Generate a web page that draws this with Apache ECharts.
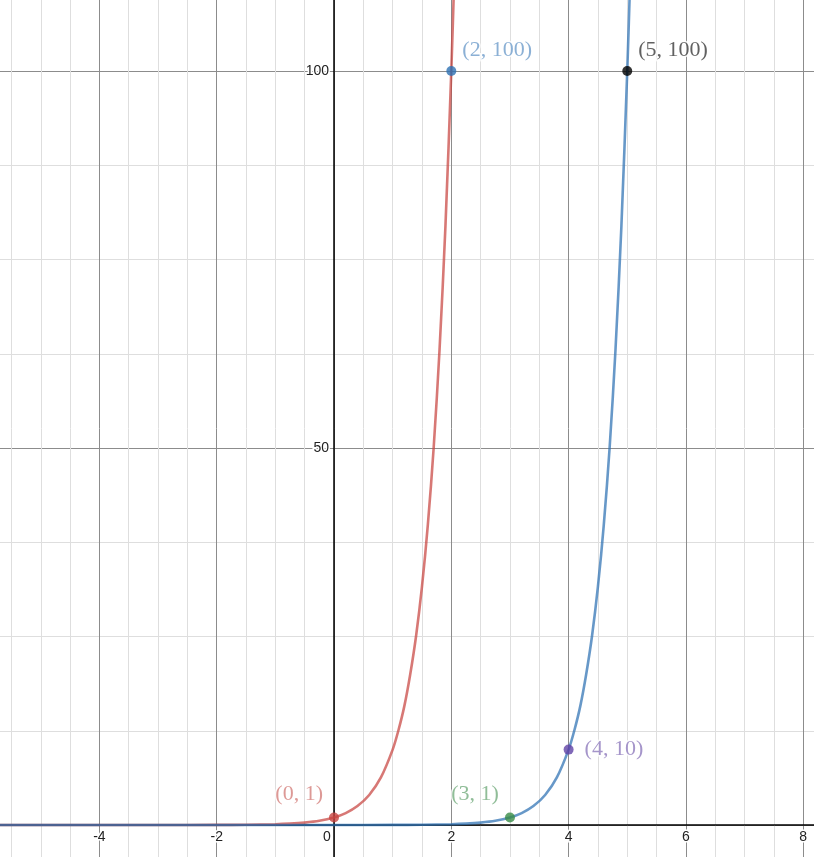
<!DOCTYPE html>
<html>
<head>
<meta charset="utf-8">
<script src="https://cdn.jsdelivr.net/npm/echarts@6/dist/echarts.min.js"></script>
<style>
html,body{margin:0;padding:0;background:#fff;}
#chart{width:814px;height:857px;}
</style>
</head>
<body>
<div id="chart"></div>
<script>
// Red curve
var redX = [-5.7, -3, -2, -1.5, -1, -0.75, -0.5, -0.25, 0, 0.2, 0.4, 0.6, 0.8, 1, 1.1, 1.2, 1.3, 1.4, 1.5, 1.6, 1.7, 1.8, 1.9, 2, 2.06];
var redY = [0, 0.001, 0.01, 0.03, 0.1, 0.18, 0.32, 0.56, 1, 1.58, 2.51, 3.98, 6.31, 10, 12.6, 15.8, 20, 25.1, 31.6, 39.8, 50.1, 63.1, 79.4, 100, 114.8];
// Blue curve
var blueX = [-5.7, 0, 1, 1.5, 2, 2.25, 2.5, 2.75, 3, 3.2, 3.4, 3.6, 3.8, 4, 4.1, 4.2, 4.3, 4.4, 4.5, 4.6, 4.7, 4.8, 4.9, 5, 5.06];
var blueY = [0, 0.001, 0.01, 0.03, 0.1, 0.18, 0.32, 0.56, 1, 1.58, 2.51, 3.98, 6.31, 10, 12.6, 15.8, 20, 25.1, 31.6, 39.8, 50.1, 63.1, 79.4, 100, 114.8];
// Labelled points
var ptX = [0, 2, 3, 4, 5];
var ptY = [1, 100, 1, 10, 100];
var ptText = ['(0, 1)', '(2, 100)', '(3, 1)', '(4, 10)', '(5, 100)'];
var ptColor = ['#c74440', '#2d70b3', '#388c46', '#6042a6', '#000000'];
var ptLabelColor = ['#d4807c', '#6e9ccb', '#74ad7e', '#8e7bbd', '#3a3a3a'];
var ptSide = ['left', 'right', 'left', 'right', 'right'];
var ptDy = [-23, -21, -23, 0, -21];
var ptDist = [6, 6, 6, 11, 6];
// Axis ticks
var xMin = -6, xMax = 10, xStep = 2;
var yMin = -50, yMax = 150, yStep = 50;
var xTickLabels = [-4, -2, 0, 2, 4, 6, 8];
var yTickLabels = [50, 100];

function zip(a, b) { return a.map(function (v, i) { return [v, b[i]]; }); }

var chart = echarts.init(document.getElementById('chart'), null, {renderer: 'canvas'});

var pxPerX = 58.65, pxPerY = 7.54, originX = 334, originY = 825;
var gridLeft = originX + xMin * pxPerX;
var gridRight = 814 - (originX + xMax * pxPerX);
var gridTop = originY - yMax * pxPerY;
var gridBottom = 857 - (originY - yMin * pxPerY);

var pointData = ptX.map(function (x, i) {
  return {
    value: [x, ptY[i]],
    itemStyle: {color: ptColor[i]},
    label: {
      show: true,
      formatter: ptText[i],
      position: ptSide[i],
      distance: ptDist[i],
      offset: [0, ptDy[i]],
      color: ptLabelColor[i],
      fontFamily: 'Liberation Serif, DejaVu Serif, serif',
      fontSize: 22,
      textBorderColor: '#fff',
      textBorderWidth: 3
    }
  };
});

var labelFont = {
  color: '#222',
  fontFamily: 'Liberation Sans, Arial, sans-serif',
  fontSize: 14,
  textBorderColor: '#fff',
  textBorderWidth: 3
};

chart.setOption({
  animation: false,
  backgroundColor: '#fff',
  grid: {
    left: gridLeft, right: gridRight, top: gridTop, bottom: gridBottom,
    containLabel: false,
    outerBoundsMode: 'none'
  },
  xAxis: [{
    type: 'value', min: xMin, max: xMax, interval: xStep,
    axisLine: {onZero: true, lineStyle: {color: '#000', width: 1.5}},
    axisTick: {show: false},
    splitLine: {show: true, lineStyle: {color: '#8c8c8c', width: 1}},
    minorTick: {show: false, splitNumber: 4},
    minorSplitLine: {show: true, lineStyle: {color: '#dedede', width: 1}},
    axisLabel: {show: false}
  }, {
    // label-only axis placed on the y = 0 line
    type: 'value', min: xMin, max: xMax, interval: xStep,
    position: 'bottom',
    offset: -(originY - yMin * pxPerY - originY),
    axisLine: {show: false, onZero: false},
    axisTick: {show: false},
    splitLine: {show: false},
    axisLabel: Object.assign({
      margin: 5,
      formatter: function (v) {
        if (xTickLabels.indexOf(v) < 0) return '';
        if (v === 0) return '{z|0}';
        return String(v);
      },
      rich: {z: {padding: [0, 14, 0, 0], fontSize: 14, color: '#222', fontFamily: 'Liberation Sans, Arial, sans-serif', textBorderColor: '#fff', textBorderWidth: 3}}
    }, labelFont)
  }],
  yAxis: [{
    type: 'value', min: yMin, max: yMax, interval: yStep,
    axisLine: {onZero: true, lineStyle: {color: '#000', width: 1.5}},
    axisTick: {show: false},
    splitLine: {show: true, lineStyle: {color: '#8c8c8c', width: 1}},
    minorTick: {show: false, splitNumber: 4},
    minorSplitLine: {show: true, lineStyle: {color: '#dedede', width: 1}},
    axisLabel: {show: false}
  }, {
    // label-only axis placed on the x = 0 line
    type: 'value', min: yMin, max: yMax, interval: yStep,
    position: 'left',
    offset: -(originX - gridLeft),
    axisLine: {show: false, onZero: false},
    axisTick: {show: false},
    splitLine: {show: false},
    axisLabel: Object.assign({
      margin: 5,
      formatter: function (v) { return yTickLabels.indexOf(v) < 0 ? '' : String(v); }
    }, labelFont)
  }],
  series: [
    {
      type: 'line', data: zip(redX, redY), showSymbol: false, symbol: 'none',
      smooth: 0.3,
      lineStyle: {color: '#c74440', width: 2.6, opacity: 0.72}, z: 3
    },
    {
      type: 'line', data: zip(blueX, blueY), showSymbol: false, symbol: 'none',
      smooth: 0.3,
      lineStyle: {color: '#2d70b3', width: 2.6, opacity: 0.72}, z: 3
    },
    {
      type: 'scatter', data: pointData, symbol: 'circle', symbolSize: 10, z: 5
    }
  ]
});
</script>
</body>
</html>
